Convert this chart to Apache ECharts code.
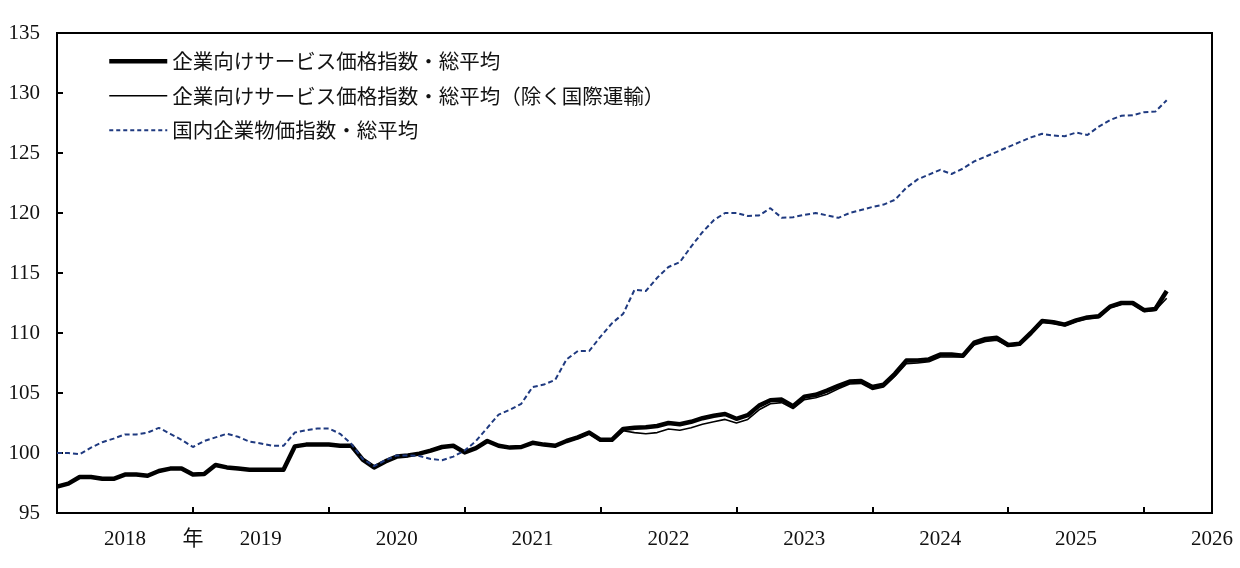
<!DOCTYPE html>
<html>
<head>
<meta charset="utf-8">
<script src="https://cdn.jsdelivr.net/npm/echarts@6/dist/echarts.min.js"></script>
<style>
html,body{margin:0;padding:0;background:#fff;}
#chart{width:1240px;height:568px;}
</style>
</head>
<body>
<div id="chart"></div>
<script>
// ---- data (monthly, Jan 2018 - Mar 2026) ----
const yearLabels = ['2018','2019','2020','2021','2022','2023','2024','2025','2026'];
const yearUnit = '年';
const seriesNames = [
  '企業向けサービス価格指数・総平均',
  '企業向けサービス価格指数・総平均（除く国際運輸）',
  '国内企業物価指数・総平均'
];
const sppiTotal = [
  97.2, 97.45, 98.0, 98.0, 97.85, 97.85, 98.2, 98.2, 98.1, 98.5, 98.7, 98.7,
  98.2, 98.25, 99.0, 98.8, 98.7, 98.6, 98.6, 98.6, 98.6, 100.55, 100.7, 100.7,
  100.7, 100.6, 100.6, 99.45, 98.8, 99.3, 99.7, 99.8, 99.95, 100.2, 100.5, 100.6,
  100.05, 100.4, 101.0, 100.6, 100.45, 100.5, 100.85, 100.7, 100.6, 101.0, 101.3, 101.7,
  101.1, 101.1, 102.0, 102.1, 102.15, 102.25, 102.5, 102.4, 102.6, 102.9, 103.1, 103.25,
  102.85, 103.15, 103.95, 104.4, 104.45, 103.9, 104.7, 104.85, 105.2, 105.6, 105.95, 106.0,
  105.5, 105.7, 106.6, 107.7, 107.7, 107.8, 108.2, 108.2, 108.1, 109.2, 109.5, 109.6,
  109.0, 109.1, 110.0, 111.0, 110.9, 110.7, 111.05, 111.3, 111.4, 112.2, 112.5, 112.5,
  111.9, 112.0, 113.5
];
const sppiExIntl = [
  97.2, 97.45, 98.0, 98.0, 97.85, 97.85, 98.2, 98.2, 98.1, 98.5, 98.7, 98.7,
  98.2, 98.25, 99.0, 98.8, 98.7, 98.6, 98.6, 98.6, 98.6, 100.55, 100.7, 100.7,
  100.7, 100.6, 100.6, 99.5, 98.85, 99.3, 99.7, 99.8, 99.95, 100.2, 100.5, 100.6,
  100.05, 100.4, 101.0, 100.6, 100.45, 100.5, 100.8, 100.65, 100.55, 100.95, 101.2, 101.6,
  101.0, 101.0, 101.85, 101.7, 101.6, 101.7, 102.0, 101.9, 102.1, 102.4, 102.6, 102.8,
  102.5, 102.8, 103.6, 104.1, 104.2, 103.7, 104.45, 104.6, 104.9, 105.35, 105.75, 105.8,
  105.3, 105.5, 106.4, 107.45, 107.5, 107.6, 108.0, 108.0, 108.0, 109.0, 109.3, 109.4,
  108.9, 109.0, 109.9, 110.9, 110.8, 110.6, 110.95, 111.2, 111.3, 112.1, 112.4, 112.4,
  111.8, 111.9, 112.9
];
const cgpi = [
  100.0, 100.0, 99.9, 100.45, 100.9, 101.2, 101.55, 101.55, 101.7, 102.1, 101.6, 101.1,
  100.5, 101.0, 101.3, 101.6, 101.35, 100.95, 100.8, 100.6, 100.6, 101.7, 101.9, 102.05,
  102.05, 101.6, 100.75, 99.5, 98.9, 99.4, 99.8, 99.8, 99.75, 99.5, 99.4, 99.7,
  100.2, 101.0, 102.1, 103.2, 103.6, 104.1, 105.5, 105.7, 106.1, 107.8, 108.5, 108.5,
  109.7, 110.8, 111.6, 113.6, 113.5, 114.6, 115.5, 115.9, 117.2, 118.4, 119.4, 120.0,
  120.0, 119.75, 119.8, 120.4, 119.6, 119.65, 119.85, 120.0, 119.8, 119.6, 120.0, 120.25,
  120.5, 120.7, 121.1, 122.1, 122.8, 123.2, 123.6, 123.25, 123.7, 124.3, 124.7, 125.1,
  125.5, 125.9, 126.3, 126.6, 126.45, 126.4, 126.7, 126.5, 127.2, 127.75, 128.1, 128.15,
  128.4, 128.45, 129.4
];
const yMin = 95, yMax = 135, yStep = 5;

// month categories Jan 2018 .. Jul 2026
const months = [];
yearLabels.forEach(function (y) {
  for (let m = 1; m <= 12; m++) months.push(y + '-' + (m < 10 ? '0' + m : m));
});
const categories = months.slice(0, 103);

const serif = "'Liberation Serif', 'Noto Sans CJK JP', serif";
const cjk = "'Noto Sans CJK JP', 'Liberation Serif', sans-serif";
const navy = '#1f3a80';

const chart = echarts.init(document.getElementById('chart'), null, {renderer: 'canvas'});
chart.setOption({
  animation: false,
  backgroundColor: '#fff',
  grid: {left: 57, right: 28, top: 33, bottom: 55, show: true, borderColor: '#000', borderWidth: 2},
  legend: {
    orient: 'vertical',
    left: 102,
    top: 46,
    itemWidth: 58,
    itemHeight: 14,
    itemGap: 14,
    itemStyle: {opacity: 0},
    data: [
      {name: seriesNames[0], lineStyle: {width: 4.5, color: '#000'}},
      {name: seriesNames[1], lineStyle: {width: 1.6, color: '#000'}},
      {name: seriesNames[2], lineStyle: {width: 1.8, color: navy, type: [4, 3]}}
    ],
    textStyle: {fontFamily: cjk, fontSize: 20.5, color: '#111'}
  },
  xAxis: {
    type: 'category',
    data: categories,
    boundaryGap: false,
    axisLine: {lineStyle: {color: '#000', width: 2}},
    axisTick: {
      inside: true, length: 6,
      interval: function (i) { return i % 12 === 0; },
      lineStyle: {color: '#000', width: 2}
    },
    axisLabel: {
      interval: function (i) { return i % 12 === 6 || i === 12; },
      formatter: function (v, i) { return i === 12 ? yearUnit : v.slice(0, 4); },
      fontFamily: serif, fontSize: 21, color: '#111', margin: 16
    },
    splitLine: {show: false}
  },
  yAxis: {
    type: 'value',
    min: yMin, max: yMax, interval: yStep,
    axisLine: {show: true, lineStyle: {color: '#000', width: 2}},
    axisTick: {show: true, inside: true, length: 6, lineStyle: {color: '#000', width: 2}},
    axisLabel: {fontFamily: serif, fontSize: 21, color: '#111', margin: 17},
    splitLine: {show: false}
  },
  series: [
    {
      name: seriesNames[0], type: 'line', data: sppiTotal,
      symbol: 'none', z: 2,
      lineStyle: {color: '#000', width: 4.5, join: 'round'},
      itemStyle: {color: '#000'}
    },
    {
      name: seriesNames[1], type: 'line', data: sppiExIntl,
      symbol: 'none', z: 3,
      lineStyle: {color: '#000', width: 1.6},
      itemStyle: {color: '#000'}
    },
    {
      name: seriesNames[2], type: 'line', data: cgpi,
      symbol: 'none', z: 4,
      lineStyle: {color: navy, width: 2, type: [5, 3]},
      itemStyle: {color: navy}
    }
  ]
});
</script>
</body>
</html>
